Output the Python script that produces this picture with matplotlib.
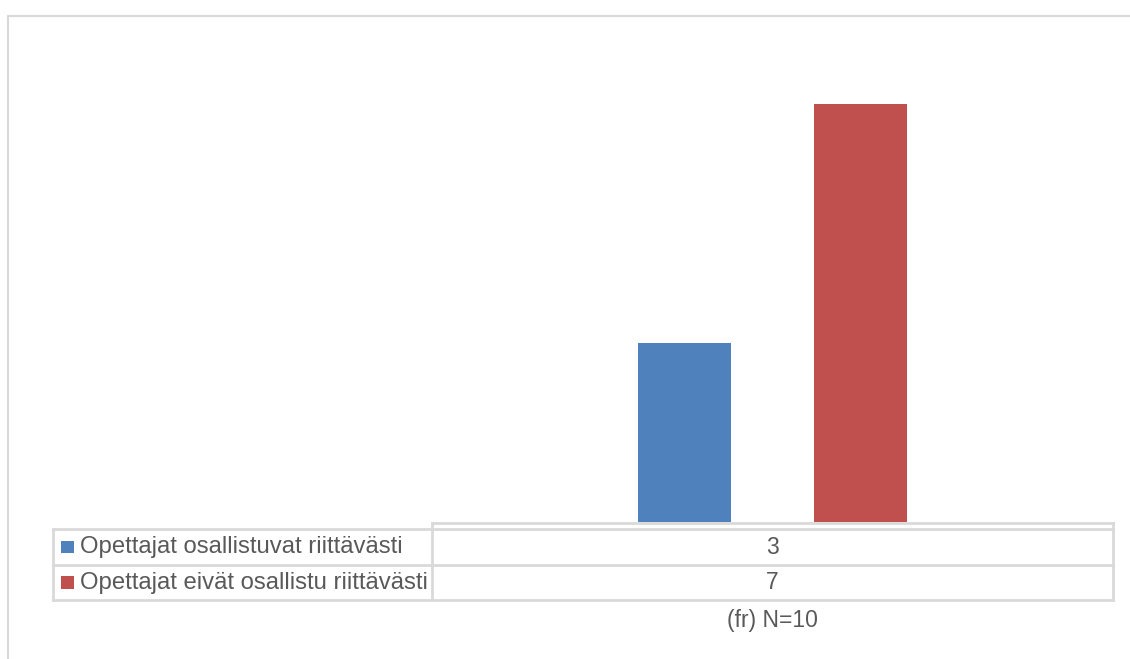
import matplotlib.pyplot as plt
import numpy as np

plt.rcParams['font.family'] = ['Liberation Sans', 'DejaVu Sans']

# data
series = ['Opettajat osallistuvat riittävästi', 'Opettajat eivät osallistu riittävästi']
values = [3, 7]
colors = ['#4F81BD', '#C0504D']
category = '(fr) N=10'

W, H = 1130, 659
grid = '#D9D9D9'
txt = '#595959'

fig = plt.figure(figsize=(W / 100, H / 100), dpi=100)

# plot area (pixel box -> figure fraction)
x0, x1, y0, y1 = 432, 1113, 522, 44
ax = fig.add_axes([x0 / W, 1 - y0 / H, (x1 - x0) / W, (y0 - y1) / H])
offsets = [-0.129, 0.129]
for v, c, off in zip(values, colors, offsets):
    ax.bar(0.5 + off, v, width=0.137, color=c)
ax.set_xlim(0, 1)
ax.set_ylim(0, 8)
ax.axis('off')

# overlay in pixel coordinates for the frame and data table
ov = fig.add_axes([0, 0, 1, 1], zorder=-1)
ov.set_xlim(0, W)
ov.set_ylim(H, 0)
ov.axis('off')

lw = 2.0
# outer chart frame
ov.plot([8, W], [16, 16], color=grid, lw=1.5)
ov.plot([8, 8], [16, H], color=grid, lw=1.5)

# data table
tl, tm, tr = 53, 432, 1113
rows = [529, 565, 600]
ov.plot([tm, tr], [523, 523], color=grid, lw=lw)
for y in rows:
    ov.plot([tl, tr], [y, y], color=grid, lw=lw)
ov.plot([tl, tl], [rows[0], rows[-1]], color=grid, lw=lw)
ov.plot([tm, tm], [523, rows[-1]], color=grid, lw=lw)
ov.plot([tr, tr], [523, rows[-1]], color=grid, lw=lw)

cx = (tm + tr) / 2
for i, (name, v, c) in enumerate(zip(series, values, colors)):
    yc = (rows[i] + rows[i + 1]) / 2
    ov.add_patch(plt.Rectangle((61, yc - 6.5), 12.5, 12.5, color=c, lw=0))
    ov.text(80, yc, name, fontsize=17.2, color=txt, va='center', ha='left')
    ov.text(cx, yc, str(v), fontsize=16.5, color=txt, va='center', ha='center')

ov.text(cx, 621, category, fontsize=16.5, color=txt, va='center', ha='center')

fig.savefig('out.png', dpi=100)
